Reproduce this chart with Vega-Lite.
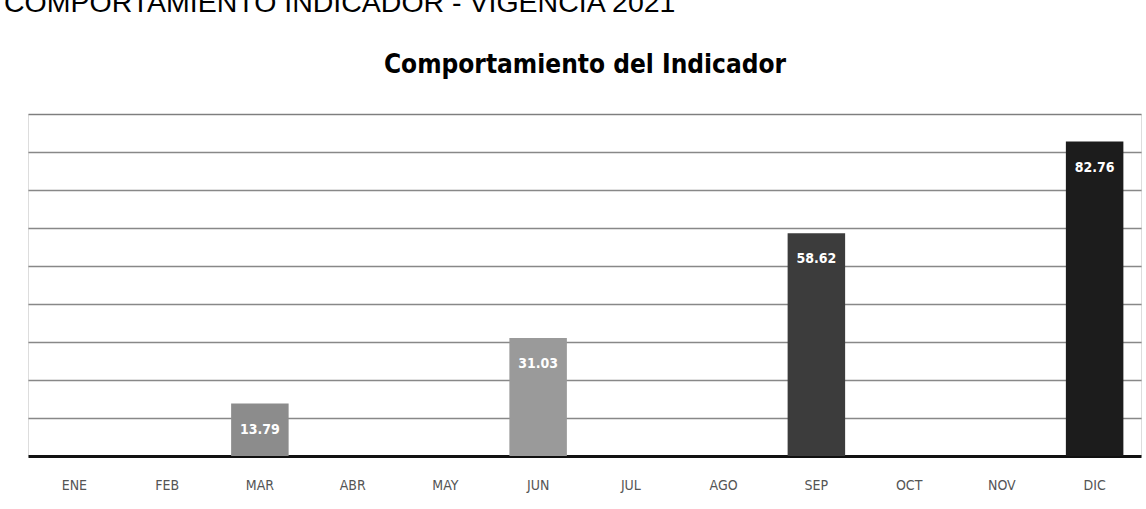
{
  "$schema": "https://vega.github.io/schema/vega-lite/v6.json",
  "width": 1113,
  "height": 342,
  "autosize": {"type": "none"},
  "padding": {"left": 28, "top": 114, "right": 5, "bottom": 53},
  "background": "white",
  "title": {
    "text": "COMPORTAMIENTO INDICADOR - VIGENCIA 2021",
    "anchor": "start",
    "frame": "group",
    "font": "Liberation Sans",
    "fontSize": 28.5,
    "fontWeight": "normal",
    "color": "black",
    "offset": 0,
    "dx": -24,
    "dy": -34
  },
  "data": {
    "values": [
      {"mes": "ENE", "valor": null},
      {"mes": "FEB", "valor": null},
      {"mes": "MAR", "valor": 13.79},
      {"mes": "ABR", "valor": null},
      {"mes": "MAY", "valor": null},
      {"mes": "JUN", "valor": 31.03},
      {"mes": "JUL", "valor": null},
      {"mes": "AGO", "valor": null},
      {"mes": "SEP", "valor": 58.62},
      {"mes": "OCT", "valor": null},
      {"mes": "NOV", "valor": null},
      {"mes": "DIC", "valor": 82.76}
    ]
  },
  "layer": [
    {
      "mark": {"type": "bar"},
      "encoding": {
        "x": {
          "field": "mes",
          "type": "ordinal",
          "sort": null,
          "scale": {
            "domain": ["ENE", "FEB", "MAR", "ABR", "MAY", "JUN", "JUL", "AGO", "SEP", "OCT", "NOV", "DIC"],
            "paddingInner": 0.38,
            "paddingOuter": 0.19
          },
          "axis": {
            "orient": "bottom",
            "title": null,
            "labelAngle": 0,
            "ticks": false,
            "domainColor": "#111111",
            "domainWidth": 3,
            "labelFont": "DejaVu Sans Condensed",
            "labelFontSize": 14,
            "labelColor": "#555555",
            "labelPadding": 22,
            "grid": false
          }
        },
        "y": {
          "field": "valor",
          "type": "quantitative",
          "scale": {"domain": [0, 90], "nice": false},
          "axis": {
            "title": null,
            "labels": false,
            "ticks": false,
            "domain": false,
            "values": [10, 20, 30, 40, 50, 60, 70, 80, 90],
            "grid": true,
            "gridColor": "#555555",
            "gridWidth": 1.5,
            "gridOpacity": 0.7
          }
        },
        "color": {
          "field": "mes",
          "type": "nominal",
          "legend": null,
          "scale": {
            "domain": ["MAR", "JUN", "SEP", "DIC"],
            "range": ["#8c8c8c", "#9a9a9a", "#3c3c3c", "#1c1c1c"]
          }
        }
      }
    },
    {
      "mark": {
        "type": "text",
        "color": "white",
        "font": "DejaVu Sans Condensed",
        "fontWeight": "bold",
        "fontSize": 14,
        "baseline": "middle",
        "dy": 26
      },
      "transform": [{"filter": "datum.valor != null"}],
      "encoding": {
        "x": {"field": "mes", "type": "ordinal", "sort": null, "axis": null},
        "y": {"field": "valor", "type": "quantitative"},
        "text": {"field": "valor", "type": "quantitative", "format": ".2f"}
      }
    },
    {
      "mark": {"type": "rule", "opacity": 0},
      "transform": [{"filter": "datum.valor != null"}],
      "encoding": {
        "x": {
          "field": "mes",
          "type": "ordinal",
          "sort": null,
          "axis": {
            "orient": "top",
            "title": "Comportamiento del Indicador",
            "titleFont": "DejaVu Sans Condensed",
            "titleFontSize": 26,
            "titleFontWeight": "bold",
            "titleColor": "black",
            "titleBaseline": "alphabetic",
            "titlePadding": 42,
            "labels": false,
            "ticks": false,
            "domain": false,
            "grid": false
          }
        },
        "y": {"field": "valor", "type": "quantitative"}
      }
    }
  ],
  "resolve": {"axis": {"x": "independent"}}
}
